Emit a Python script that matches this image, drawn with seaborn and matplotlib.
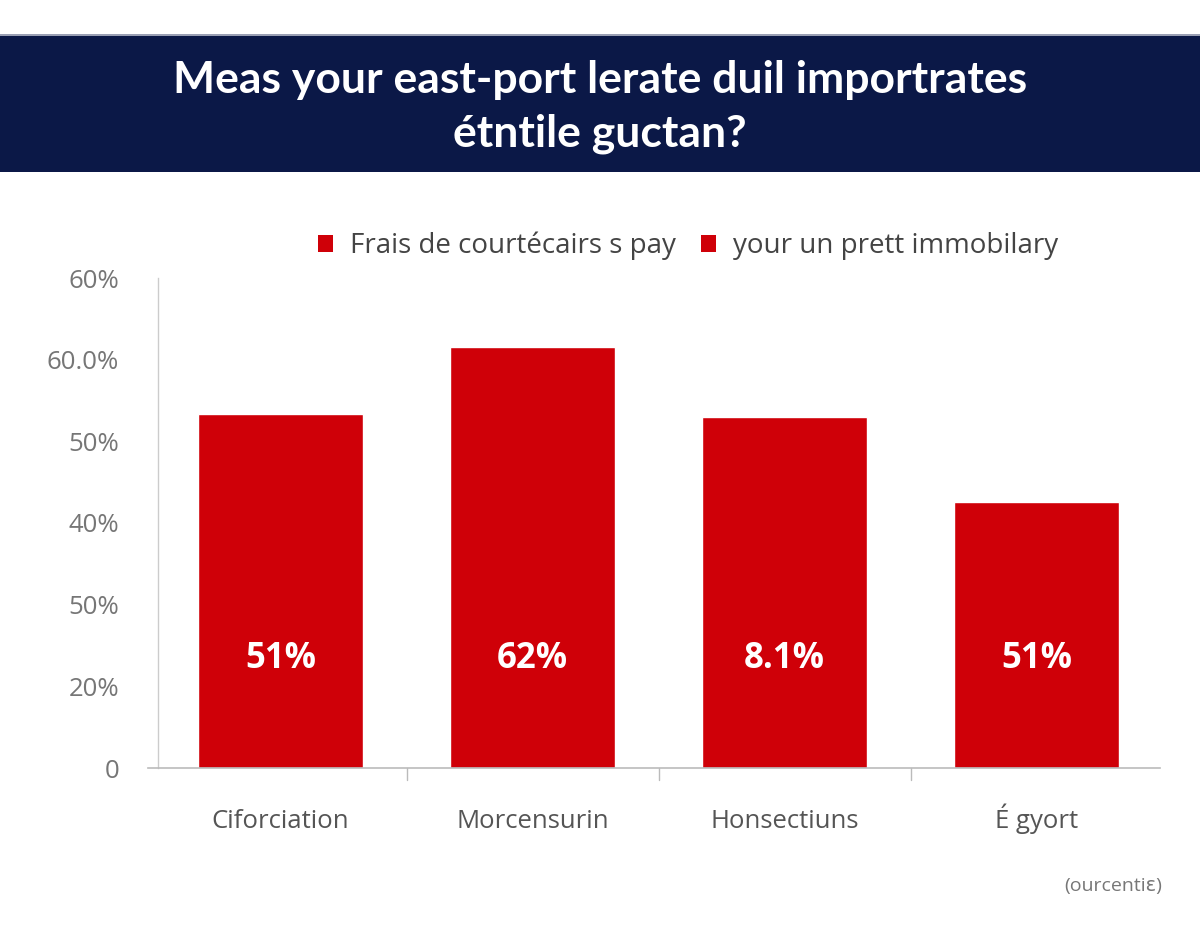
import matplotlib
matplotlib.use("Agg")
import matplotlib.pyplot as plt
from matplotlib.patches import Rectangle, Patch
import seaborn as sns
import pandas as pd

# data
categories = ["Ciforciation", "Morcensurin", "Honsectiuns", "É gyort"]
values = [43.3, 51.5, 43.0, 32.6]
bar_labels = ["51%", "62%", "8.1%", "51%"]
y_ticks = [0, 10, 20, 30, 40, 50, 60]
y_tick_labels = ["0", "20%", "50%", "40%", "50%", "60.0%", "60%"]
legend_labels = ["Frais de courtécairs s pay", "your un prett immobilary"]
title = "Meas your east-port lerate duil importrates\nétntile guctan?"
note = "(ourcentiɛ)"

red = "#cf0008"
navy = "#0b1847"
gray = "#767676"

sns.set_theme(style="white")
plt.rcParams['font.family'] = ['Open Sans', 'DejaVu Sans']

df = pd.DataFrame({"cat": categories, "val": values})

fig = plt.figure(figsize=(12, 9.33), dpi=100)
fig.patch.set_facecolor("white")

# title banner
fig.patches.append(Rectangle((0, 1 - 172 / 933), 1, 138 / 933, transform=fig.transFigure,
                             facecolor=navy, edgecolor="none", zorder=0))
fig.patches.append(Rectangle((0, 1 - 36 / 933), 1, 2 / 933, transform=fig.transFigure,
                             facecolor="#9a9fb3", edgecolor="none", zorder=0))
fig.text(0.5, 1 - 107 / 933, title, ha="center", va="center", color="white",
         fontsize=32, fontweight="bold", family=["Lato", "DejaVu Sans"], linespacing=1.4)

ax = fig.add_axes([148 / 1200, 165 / 933, 1012 / 1200, 490 / 933])
# spine position first, it resets the tick labels
for s in ["top", "right"]:
    ax.spines[s].set_visible(False)
ax.spines["left"].set_position(("data", -0.486))

sns.barplot(data=df, x="cat", y="val", color=red, saturation=1, width=0.655, ax=ax)

ax.set_xlim(-0.526, 3.49)
ax.set_ylim(0, 60)
ax.set_xlabel("")
ax.set_ylabel("")
ax.set_yticks(y_ticks)
ax.set_yticklabels(y_tick_labels, fontsize=18.5, color=gray)
ax.tick_params(axis="y", length=0, pad=28)
ax.set_xticks(range(len(categories)))
ax.set_xticklabels(categories, fontsize=18.5, color="#555555", va="baseline")
ax.tick_params(axis="x", length=0, pad=43)

# boundary ticks between categories
for b in [0.5, 1.5, 2.5]:
    ax.plot([b, b], [0, -1.5], color="#bbbbbb", lw=1, clip_on=False)

ax.spines["left"].set_color("#cccccc")
ax.spines["bottom"].set_color("#bbbbbb")
ax.spines["left"].set_linewidth(1)
ax.spines["bottom"].set_linewidth(1.2)

for i, lab in enumerate(bar_labels):
    ax.text(i, 13.3, lab, ha="center", va="center", color="white",
            fontsize=25, fontweight="bold", family=["Open Sans", "DejaVu Sans"])

handles = [Patch(facecolor=red, edgecolor="none") for _ in legend_labels]
fig.legend(handles, legend_labels, loc="center", bbox_to_anchor=(688 / 1200, 1 - 246 / 933),
           ncol=2, frameon=False, fontsize=20, handlelength=0.55, handleheight=0.55,
           handletextpad=0.6, columnspacing=0.9, labelcolor="#444444")

fig.text(1162 / 1200, 1 - 886 / 933, note, ha="right", va="center", fontsize=14, color="#777777")

fig.savefig("out.png", dpi=100)
